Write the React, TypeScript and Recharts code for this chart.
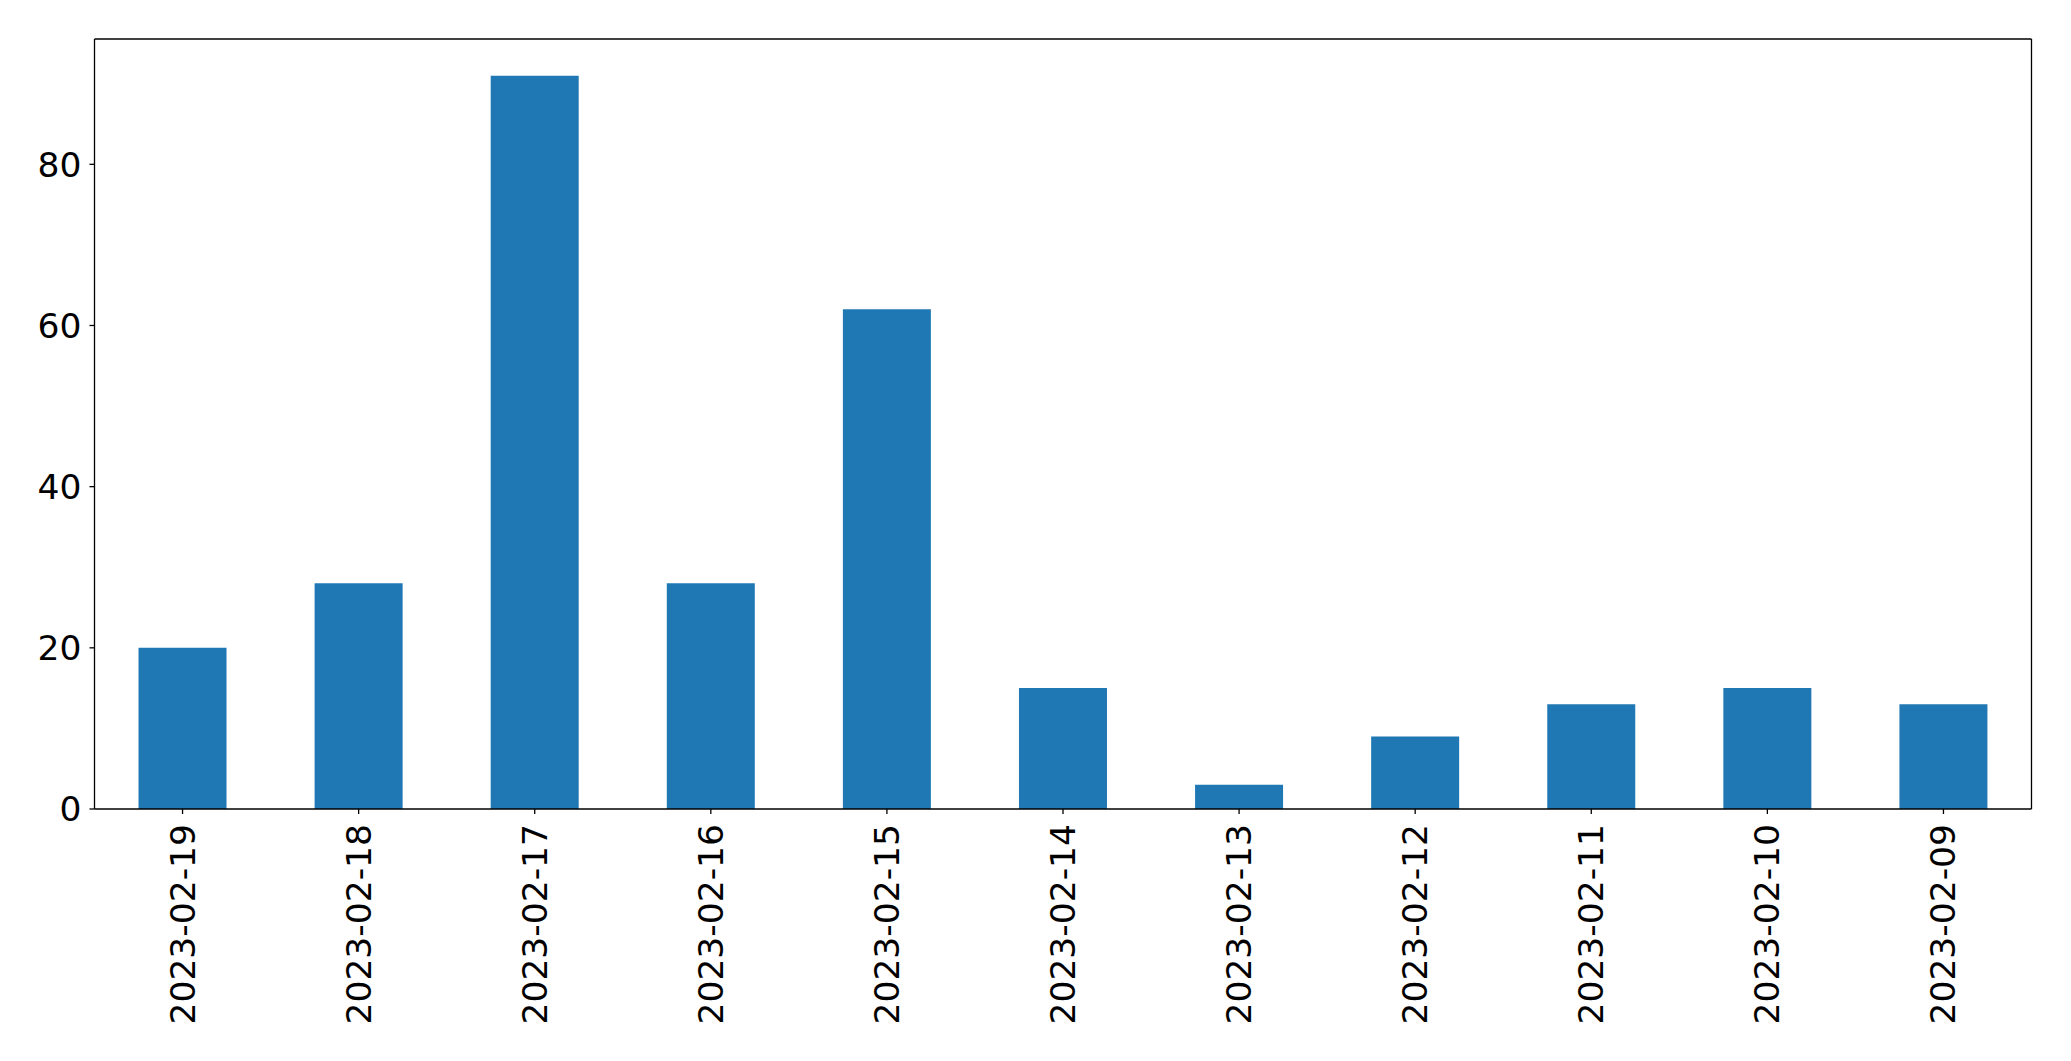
import React from 'react';
import { BarChart, Bar, XAxis, YAxis, ReferenceLine } from 'recharts';

const dates = [
  '2023-02-19', '2023-02-18', '2023-02-17', '2023-02-16', '2023-02-15', '2023-02-14',
  '2023-02-13', '2023-02-12', '2023-02-11', '2023-02-10', '2023-02-09',
];
const counts = [20, 28, 91, 28, 62, 15, 3, 9, 13, 15, 13];
const yTicks = [0, 20, 40, 60, 80];
const yMax = 95.55;

const data = dates.map((d, i) => ({ date: d, count: counts[i] }));

const FONT = 'DejaVu Sans';

const DateTick = (props: any) => {
  const { x, y, payload } = props;
  return (
    <g transform={`translate(${x},${y})`}>
      <text
        transform="rotate(-90)"
        textAnchor="end"
        dominantBaseline="central"
        fontFamily={FONT}
        fontSize={34.5}
        fill="#000"
      >
        {payload.value}
      </text>
    </g>
  );
};

export default function App() {
  return (
    <div style={{ position: 'fixed', left: 0, top: 0, background: '#fff' }}>
      <BarChart
        width={2071}
        height={1061}
        data={data}
        margin={{ top: 39, right: 39.5, bottom: 0, left: 0 }}
        barCategoryGap="25%"
        style={{ fontFamily: FONT }}
      >
        <XAxis
          dataKey="date"
          height={252}
          interval={0}
          tickSize={5}
          tickMargin={10}
          tick={<DateTick />}
          axisLine={{ stroke: '#000', strokeWidth: 1.3 }}
          tickLine={{ stroke: '#000', strokeWidth: 1.3 }}
        />
        <YAxis
          width={94.5}
          domain={[0, yMax]}
          ticks={yTicks}
          tickSize={5}
          tickMargin={8}
          tick={{ fill: '#000', fontSize: 34.5, fontFamily: FONT }}
          axisLine={{ stroke: '#000', strokeWidth: 1.3 }}
          tickLine={{ stroke: '#000', strokeWidth: 1.3 }}
        />
        <Bar dataKey="count" fill="#1f77b4" isAnimationActive={false} />
        <ReferenceLine y={yMax} stroke="#000" strokeWidth={1.3} ifOverflow="visible" />
        <ReferenceLine
          x={dates[dates.length - 1]}
          position="end"
          stroke="#000"
          strokeWidth={1.3}
          ifOverflow="visible"
        />
      </BarChart>
    </div>
  );
}
